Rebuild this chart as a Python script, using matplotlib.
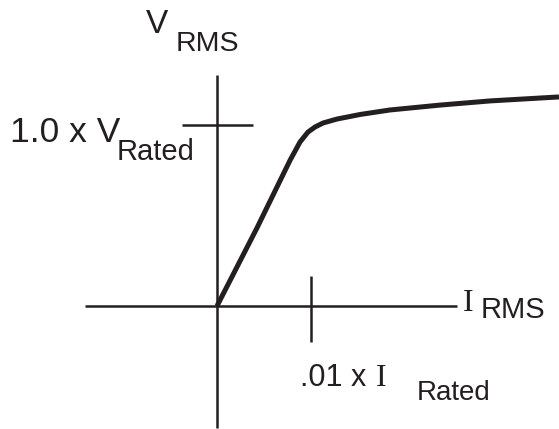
import matplotlib
matplotlib.use("Agg")
import matplotlib.pyplot as plt
from matplotlib.transforms import Affine2D

# V-I characteristic: current in units of 0.01 x I_rated, voltage in units of V_rated
current = [0.0, 0.426, 0.777, 0.883, 0.968, 1.043, 1.128, 1.277, 1.415,
           1.521, 1.840, 2.372, 2.904, 3.436, 3.638]
voltage = [0.0, 0.432, 0.805, 0.906, 0.961, 0.989, 1.011, 1.033, 1.047,
           1.058, 1.083, 1.110, 1.133, 1.149, 1.155]

v_tick_label = ("1.0 x V", "Rated")
i_tick_label = (".01 x ", "I", "Rated")
v_axis_label = ("V", "RMS")
i_axis_label = ("I", "RMS")

W, H = 559, 429
ink = "#231f20"

fig = plt.figure(figsize=(W / 100, H / 100), dpi=100)
ax = fig.add_axes([0, 0, 1, 1])
ax.set_axis_off()

# data units: 94 px per current unit, 181 px per voltage unit, origin at (217, 306)
sx, sy, ox, oy = 94.0, 181.0, 217.0, 306.0
ax.set_xlim(-ox / sx, (W - ox) / sx)
ax.set_ylim(-(H - oy) / sy, oy / sy)

def px(x):
    return (x - ox) / sx

def py(y):
    return (oy - y) / sy

# axes
ax.plot([px(85), px(457)], [0, 0], color=ink, lw=1.8, solid_capstyle="butt")
ax.plot([0, 0], [py(428), py(75)], color=ink, lw=1.8, solid_capstyle="butt")
# tick marks at V = 1 and I = 1
ax.plot([px(182), px(253)], [1, 1], color=ink, lw=1.8, solid_capstyle="butt")
ax.plot([1, 1], [py(276), py(342)], color=ink, lw=1.8, solid_capstyle="butt")

# curve
ax.plot(current, voltage, color=ink, lw=3.6, solid_capstyle="butt",
        solid_joinstyle="round")

# text placed in pixel coordinates (origin top-left)
tpx = Affine2D().scale(1 / W, -1 / H).translate(0, 1) + fig.transFigure
sans = ["Liberation Sans", "DejaVu Sans"]
serif = ["Liberation Serif", "DejaVu Serif"]

def label(x, y, s, size, family=sans):
    fig.text(x, y, s, transform=tpx, fontsize=size, family=family,
             color=ink, ha="left", va="baseline")

label(146, 33, v_axis_label[0], 24)
label(176, 51, v_axis_label[1], 20.5)

label(10, 142, v_tick_label[0], 25.5)
label(117, 160, v_tick_label[1], 21)

label(463, 311, i_axis_label[0], 23, serif)
label(481, 318, i_axis_label[1], 21)

label(300, 386, i_tick_label[0], 22)
label(376, 386, i_tick_label[1], 23, serif)
label(417, 400, i_tick_label[2], 20)

fig.savefig("out.png", dpi=100, facecolor="white")
